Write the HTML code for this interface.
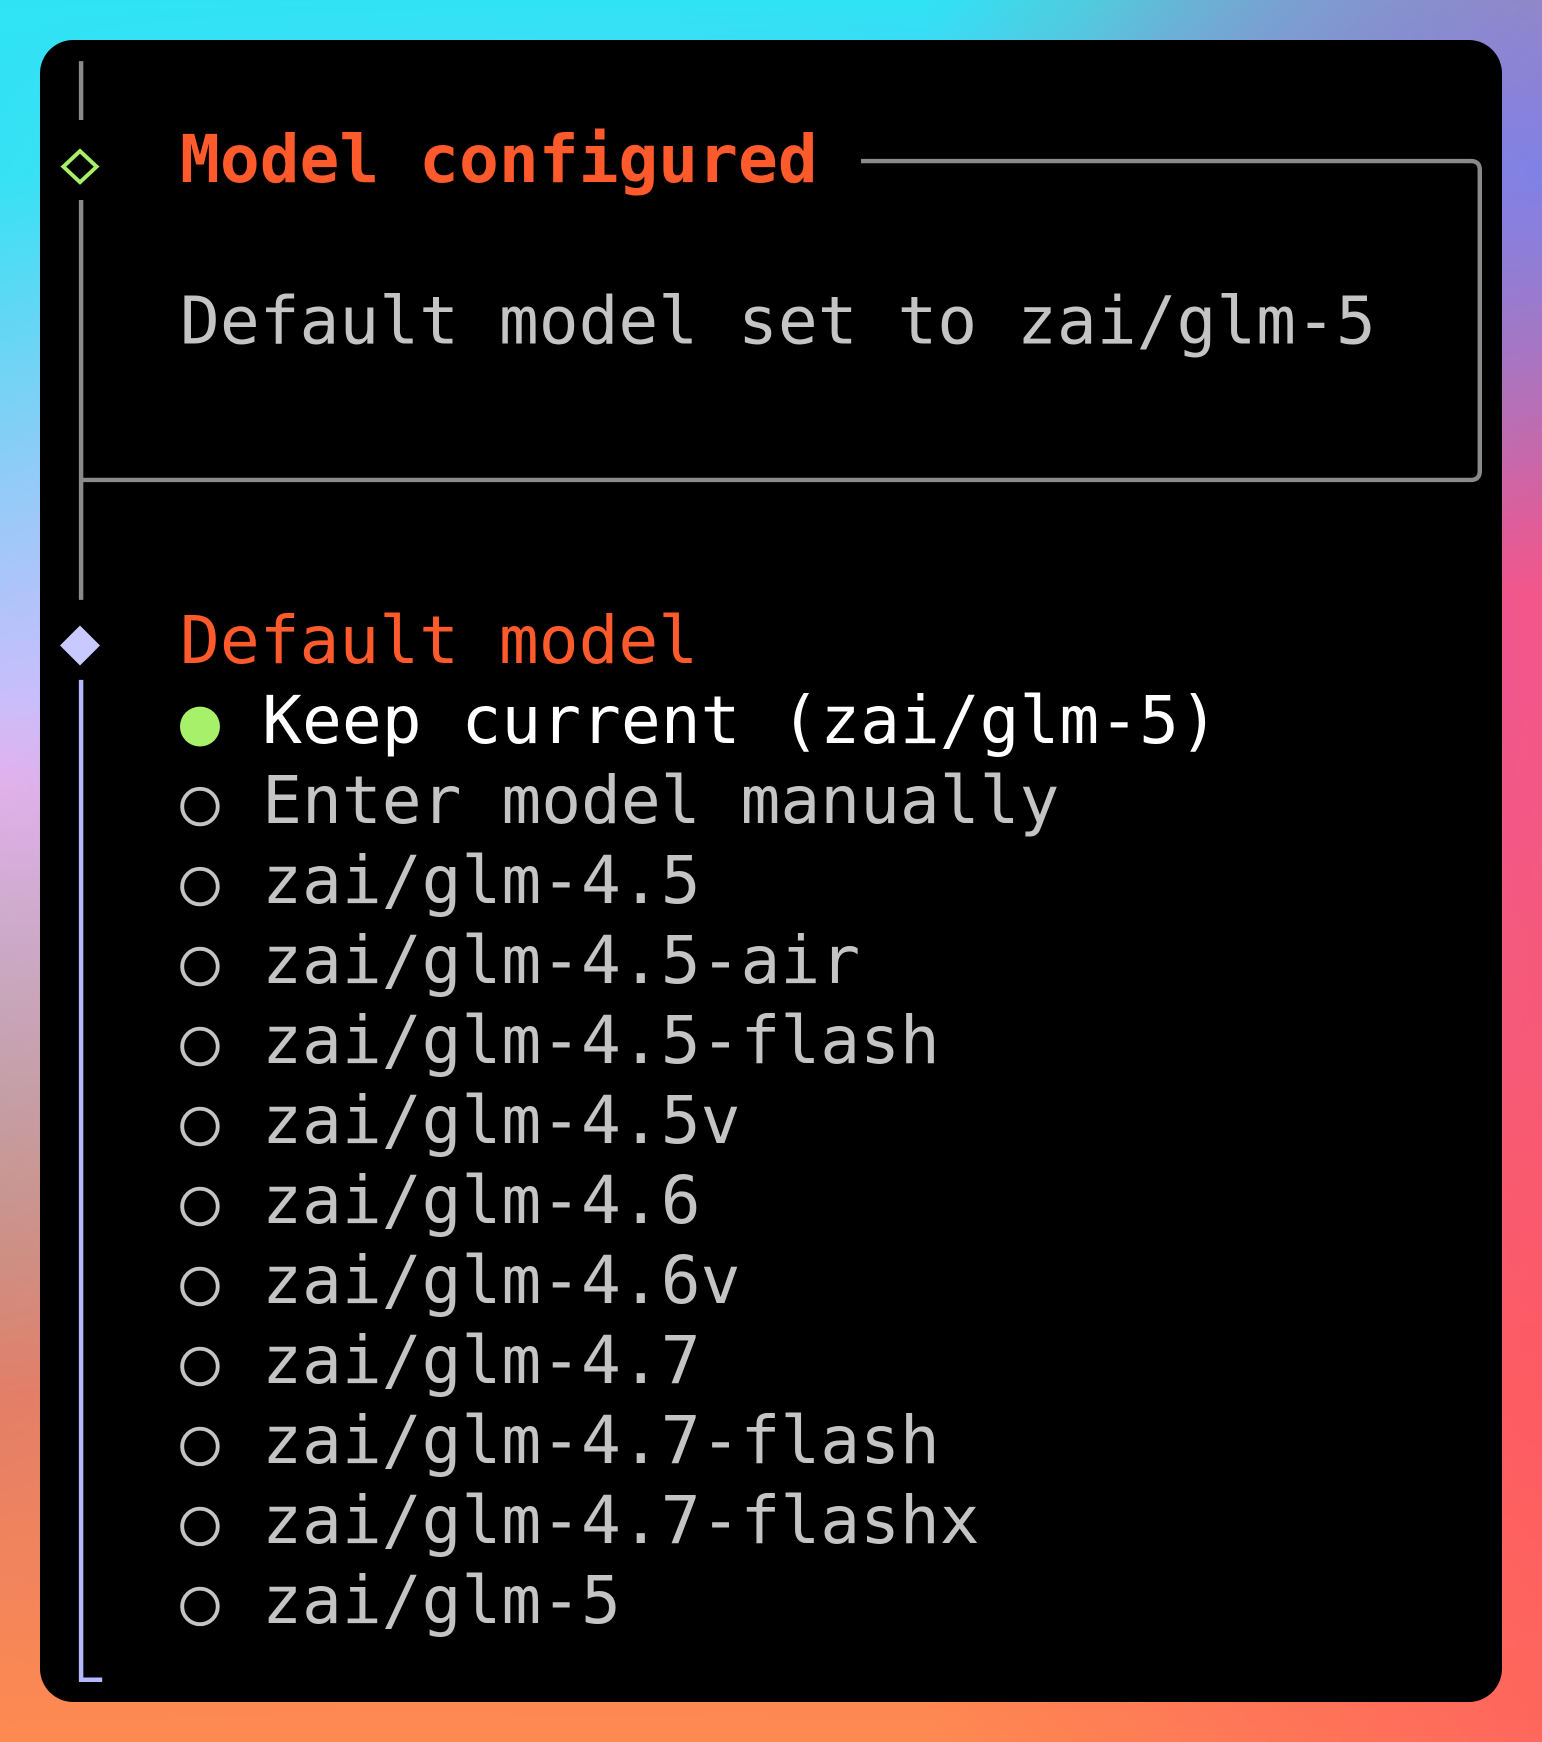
<!DOCTYPE html>
<html><head><meta charset="utf-8"><style>
html,body{margin:0;padding:0;width:1542px;height:1742px;overflow:hidden}
body{background:
 radial-gradient(ellipse 60% 50% at 0% 45%, rgba(240,180,255,0.9), rgba(240,180,255,0) 70%),
 linear-gradient(180deg,#2fe3f5 0%,rgba(47,227,245,0) 30%),
 linear-gradient(90deg,#40e0f0 0%,#c7b3f5 35%,#a080f0 70%,#e060c0 100%);
 position:relative}
.bg1{position:absolute;inset:0;background:radial-gradient(ellipse 40% 30% at 100% 10%, rgba(120,130,240,0.9), rgba(120,130,240,0) 80%)}
.bg2{position:absolute;inset:0;background:linear-gradient(180deg,rgba(0,0,0,0) 40%,rgba(255,110,80,0.85) 80%,#ff8a50 100%)}
.bg3{position:absolute;inset:0;background:linear-gradient(180deg,rgba(0,0,0,0) 20%,rgba(255,80,100,0.0) 100%),linear-gradient(90deg,rgba(0,0,0,0) 60%,rgba(255,80,100,0.6) 100%)}
.wrap{position:absolute;left:0;top:0;width:1388px;height:1568px;transform:scale(1.11095);transform-origin:0 0}
.panel{position:absolute;left:36px;top:36px;width:1316px;height:1496px;background:#000;border-radius:30px}
.t{position:absolute;font-family:"DejaVu Sans Mono","Liberation Mono",monospace;font-size:59.6px;white-space:pre;line-height:1}
.h{color:#ff5a2c;font-weight:bold}
.g{color:#c4c4c4}
</style></head><body>
<div class="bg2"></div><div class="bg3"></div><div class="bg1"></div>
<div class="wrap">
<div class="panel"></div>
<svg width="1388" height="1568" style="position:absolute;left:0;top:0">
 <line x1="73" y1="55" x2="73" y2="108" stroke="#8a8a8a" stroke-width="4"/>
 <polygon points="72,136 87,150 72,164 57,150" fill="none" stroke="#a6f06a" stroke-width="3.5"/>
 <line x1="73" y1="180" x2="73" y2="540" stroke="#8a8a8a" stroke-width="4"/>
 <path d="M775 145 H1324 Q1332 145 1332 153 V424 Q1332 432 1324 432 H73" fill="none" stroke="#8a8a8a" stroke-width="4"/>
 <polygon points="72,563 90,581 72,599 54,581" fill="#c8caff"/>
 <path d="M73 612 V1512 H92" fill="none" stroke="#b4b8ff" stroke-width="4"/>
 <circle cx="180" cy="654" r="18" fill="#a6f06a"/>
 <g fill="none" stroke="#c4c4c4" stroke-width="3.5">
  <circle cx="180" cy="726" r="16"/><circle cx="180" cy="798" r="16"/><circle cx="180" cy="870" r="16"/>
  <circle cx="180" cy="942" r="16"/><circle cx="180" cy="1014" r="16"/><circle cx="180" cy="1086" r="16"/>
  <circle cx="180" cy="1158" r="16"/><circle cx="180" cy="1230" r="16"/><circle cx="180" cy="1302" r="16"/>
  <circle cx="180" cy="1374" r="16"/><circle cx="180" cy="1446" r="16"/>
 </g>
</svg>
<div class="t h" style="left:162px;top:115px">Model configured</div>
<div class="t g" style="left:162px;top:260px">Default model set to zai/glm-5</div>
<div class="t h" style="left:162px;top:548px;font-weight:normal">Default model</div>
<div class="t" style="left:236px;top:620px;color:#fff">Keep current (zai/glm-5)</div>
<div class="t g" style="left:236px;top:692px">Enter model manually</div>
<div class="t g" style="left:236px;top:764px">zai/glm-4.5</div>
<div class="t g" style="left:236px;top:836px">zai/glm-4.5-air</div>
<div class="t g" style="left:236px;top:908px">zai/glm-4.5-flash</div>
<div class="t g" style="left:236px;top:980px">zai/glm-4.5v</div>
<div class="t g" style="left:236px;top:1052px">zai/glm-4.6</div>
<div class="t g" style="left:236px;top:1124px">zai/glm-4.6v</div>
<div class="t g" style="left:236px;top:1196px">zai/glm-4.7</div>
<div class="t g" style="left:236px;top:1268px">zai/glm-4.7-flash</div>
<div class="t g" style="left:236px;top:1340px">zai/glm-4.7-flashx</div>
<div class="t g" style="left:236px;top:1412px">zai/glm-5</div>
</div>
</body></html>
